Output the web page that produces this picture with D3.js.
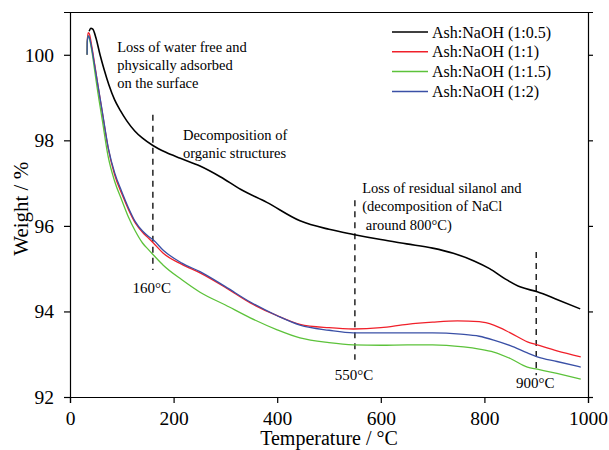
<!DOCTYPE html>
<html>
<head>
<meta charset="utf-8">
<script src="https://cdn.jsdelivr.net/npm/d3@7"></script>
<style>
  body { margin: 0; background: #fff; }
  svg text { font-family: "Liberation Serif", "Times New Roman", serif; fill: #000; }
</style>
</head>
<body>
<script>
// TGA curves of ash activated with different NaOH ratios.

// Temperature (°C) and weight (%), one pair of arrays per sample.
var tempBlack = [37, 40, 44, 50, 58, 66, 75, 86, 97, 110, 125, 140, 160, 185, 213, 251, 290, 330, 380, 444, 500, 547, 600, 650, 700, 740, 780, 810, 840, 870, 902, 940, 985],
    weightBlack = [100.55, 100.62, 100.6, 100.4, 100.0, 99.65, 99.3, 98.95, 98.7, 98.45, 98.22, 98.05, 97.88, 97.72, 97.58, 97.4, 97.15, 96.85, 96.55, 96.12, 95.92, 95.8, 95.68, 95.58, 95.48, 95.36, 95.18, 95.0, 94.76, 94.57, 94.46, 94.28, 94.06];

var tempRed = [33, 33.3, 35, 37, 42, 48, 54, 62, 74, 86, 100, 113, 126, 140, 151, 161, 180, 216, 251, 300, 348, 400, 444, 500, 547, 600, 651, 700, 748, 790, 818, 850, 883, 902, 940, 986],
    weightRed = [100.0, 100.3, 100.52, 100.5, 100.2, 99.75, 99.28, 98.68, 97.8, 97.2, 96.75, 96.38, 96.07, 95.85, 95.72, 95.6, 95.36, 95.1, 94.9, 94.56, 94.2, 93.9, 93.7, 93.62, 93.59, 93.62, 93.7, 93.75, 93.78, 93.76, 93.68, 93.5, 93.29, 93.22, 93.08, 92.94];

var tempGreen = [33, 33.3, 35, 37, 42, 48, 54, 62, 74, 86, 100, 113, 126, 140, 151, 161, 180, 216, 251, 300, 348, 400, 444, 500, 547, 600, 651, 700, 760, 790, 818, 850, 883, 902, 940, 986],
    weightGreen = [100.0, 100.3, 100.44, 100.4, 100.1, 99.6, 99.1, 98.5, 97.6, 97.05, 96.6, 96.2, 95.88, 95.6, 95.45, 95.32, 95.08, 94.74, 94.45, 94.15, 93.85, 93.57, 93.38, 93.27, 93.22, 93.21, 93.22, 93.22, 93.17, 93.12, 93.05, 92.9, 92.7, 92.65, 92.55, 92.42];

var tempBlue = [33, 33.3, 35, 37, 42, 48, 54, 62, 74, 86, 100, 113, 126, 140, 151, 161, 180, 216, 251, 300, 348, 400, 444, 500, 547, 600, 651, 700, 754, 790, 818, 850, 883, 902, 940, 986],
    weightBlue = [100.0, 100.3, 100.44, 100.42, 100.15, 99.72, 99.28, 98.7, 97.82, 97.25, 96.8, 96.42, 96.1, 95.88, 95.76, 95.67, 95.43, 95.13, 94.93, 94.58, 94.22, 93.9, 93.68, 93.56, 93.5, 93.5, 93.5, 93.5, 93.47, 93.42, 93.33, 93.2, 93.03, 92.94, 92.83, 92.7];

var seriesNames = ['Ash:NaOH (1:0.5)', 'Ash:NaOH (1:1)', 'Ash:NaOH (1:1.5)', 'Ash:NaOH (1:2)'];

// Axis ticks.
var xTicks = [0, 200, 400, 600, 800, 1000],
    xMinorTicks = [100, 300, 500, 700, 900],
    yTicks = [92, 94, 96, 98, 100],
    yMinorTicks = [93, 95, 97, 99];

// Dashed markers: temperature, weight at top and bottom of the dash.
var markerTemps = [160, 550, 900],
    markerTop = [98.6, 96.6, 95.39],
    markerBottom = [94.97, 92.87, 92.51],
    markerLabels = ['160°C', '550°C', '900°C'];

var width = 609,
    height = 450,
    margin = {top: 12, right: 21, bottom: 53, left: 70},
    serif = '"Liberation Serif", "Times New Roman", serif',
    colors = ['#000000', '#f0202a', '#5cc23a', '#3a50a6'];

var svg = d3.select('body').append('svg')
  .attr('width', width)
  .attr('height', height)
  .attr('font-family', serif);

var x = d3.scaleLinear().domain([0, 1000]).range([margin.left, width - margin.right]),
    y = d3.scaleLinear().domain([92, 101]).range([height - margin.bottom, margin.top]);

var series = [
  d3.zip(tempBlack, weightBlack),
  d3.zip(tempRed, weightRed),
  d3.zip(tempGreen, weightGreen),
  d3.zip(tempBlue, weightBlue)
];

var line = d3.line()
  .x(function (d) { return x(d[0]); })
  .y(function (d) { return y(d[1]); })
  .curve(d3.curveMonotoneX);

// Axes: major ticks point out, minor ticks point in. Top and right close the frame.
var axisBottomG = svg.append('g').attr('transform', 'translate(0,' + y(92) + ')');
axisBottomG.call(d3.axisBottom(x).tickValues(xMinorTicks).tickSize(-4).tickFormat(''));
axisBottomG.call(d3.axisBottom(x).tickValues(xTicks).tickSize(6).tickPadding(8).tickFormat(d3.format('d')));

var axisLeftG = svg.append('g').attr('transform', 'translate(' + x(0) + ',0)');
axisLeftG.call(d3.axisLeft(y).tickValues(yMinorTicks).tickSize(-4).tickFormat(''));
axisLeftG.call(d3.axisLeft(y).tickValues(yTicks).tickSize(6).tickPadding(10).tickFormat(d3.format('d')));

var axisTopG = svg.append('g').attr('transform', 'translate(0,' + y(101) + ')');
axisTopG.call(d3.axisTop(x).tickValues(xMinorTicks).tickSize(-4).tickFormat(''));
axisTopG.call(d3.axisTop(x).tickValues(xTicks).tickSize(0).tickFormat(''));

var axisRightG = svg.append('g').attr('transform', 'translate(' + x(1000) + ',0)');
axisRightG.call(d3.axisRight(y).tickValues(yMinorTicks).tickSize(-4).tickFormat(''));
axisRightG.call(d3.axisRight(y).tickValues(yTicks).tickSize(5).tickFormat(''));

svg.selectAll('g').attr('font-family', serif);
svg.selectAll('.domain, .tick line').attr('stroke', '#000').attr('stroke-width', 1.2);
svg.selectAll('.tick text').style('font-size', '19.5px');

// Axis titles.
svg.append('text')
  .attr('x', (x(0) + x(1000)) / 2)
  .attr('y', 445)
  .attr('text-anchor', 'middle')
  .style('font-size', '20px')
  .text('Temperature / °C');

svg.append('text')
  .attr('transform', 'translate(28,' + y(96.4) + ') rotate(-90)')
  .attr('text-anchor', 'middle')
  .style('font-size', '21px')
  .text('Weight / %');

// Dashed markers.
svg.selectAll('.marker').data(markerTemps).enter().append('line')
  .attr('x1', function (d) { return x(d); })
  .attr('x2', function (d) { return x(d); })
  .attr('y1', function (d, i) { return y(markerTop[i]); })
  .attr('y2', function (d, i) { return y(markerBottom[i]); })
  .attr('stroke', '#000')
  .attr('stroke-width', 1.3)
  .attr('stroke-dasharray', '6,5');

// Curves.
svg.selectAll('.curve').data(series).enter().append('path')
  .attr('d', line)
  .attr('fill', 'none')
  .attr('stroke', function (d, i) { return colors[i]; })
  .attr('stroke-width', function (d, i) { return i === 0 ? 1.6 : 1.3; });

// Annotation texts, anchored in data units.
var notes = [
  {t: 91, w: 100.07, lines: ['Loss of water free and', 'physically adsorbed', 'on the surface']},
  {t: 218, w: 98.01, lines: ['Decomposition of', 'organic structures']},
  {t: 564, w: 96.77, lines: ['Loss of residual silanol and', '(decomposition of NaCl', '\u00a0around 800°C)']}
];
notes.forEach(function (n) {
  var txt = svg.append('text')
    .attr('x', x(n.t))
    .attr('y', y(n.w))
    .style('font-size', '14.5px');
  n.lines.forEach(function (s, i) {
    txt.append('tspan').attr('x', x(n.t)).attr('dy', i === 0 ? 0 : 18.3).text(s);
  });
});

var labelWeights = [94.43, 92.4, 92.21];
svg.selectAll('.mlabel').data(markerLabels).enter().append('text')
  .attr('x', function (d, i) { return x(markerTemps[i]) - 1; })
  .attr('y', function (d, i) { return y(labelWeights[i]); })
  .attr('text-anchor', 'middle')
  .style('font-size', '15px')
  .text(function (d) { return d; });

// Legend.
var legend = svg.append('g');
seriesNames.forEach(function (name, i) {
  var cy = 32 + i * 19.8;
  legend.append('line')
    .attr('x1', 392).attr('x2', 428)
    .attr('y1', cy).attr('y2', cy)
    .attr('stroke', colors[i])
    .attr('stroke-width', 1.5);
  legend.append('text')
    .attr('x', 432)
    .attr('y', cy + 5.5)
    .style('font-size', '16px')
    .text(name);
});
</script>
</body>
</html>
